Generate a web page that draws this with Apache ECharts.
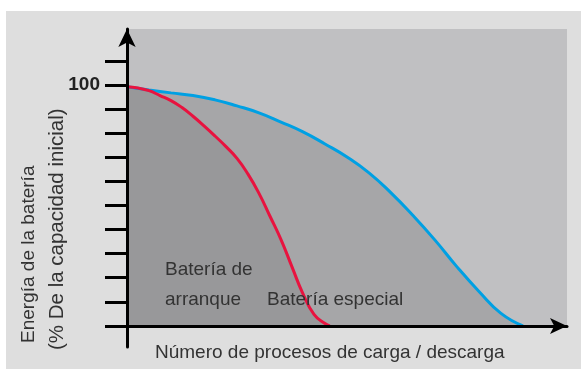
<!DOCTYPE html>
<html><head><meta charset="utf-8">
<script src="https://cdn.jsdelivr.net/npm/echarts@6/dist/echarts.min.js"></script>
<style>html,body{margin:0;padding:0;background:#fff}#c{width:581px;height:369px}</style>
</head><body><div id="c"></div>
<script>
// Data (x: relative number of cycles 0..100, y: % of initial capacity)
const xBlue = [0, 5, 10, 15, 20, 25, 30, 35, 40, 45, 50, 55, 60, 65, 70, 75, 80, 85, 90];
const yBlue = [99.2, 97.9, 96.7, 95.6, 93.8, 91.3, 88.4, 84.6, 80.5, 75.5, 70.1, 63.5, 55.2, 45.8, 35.6, 24.5, 14.3, 5.2, 0];
const xRed = [0, 2.5, 5, 7.5, 10, 12.5, 15, 17.5, 20, 22.5, 25, 27.5, 30, 32.5, 35, 37.5, 40, 42.5, 45, 46.1];
const yRed = [99.2, 98.7, 97.6, 95.6, 93.5, 90.6, 87.0, 83.0, 78.8, 74.4, 69.5, 63.0, 55.0, 45.5, 35.8, 24.5, 13.3, 4.8, 1.0, 0];
const yTicks = [0, 10, 20, 30, 40, 50, 60, 70, 80, 90, 100, 110];
const yLabels = [100];
const xMin = 0, xMax = 100, yMin = -8.75, yMax = 123.2;
const yTitle1 = 'Energía de la batería';
const yTitle2 = '(% De la capacidad inicial)';
const xTitle = 'Número de procesos de carga / descarga';
const lblStart1 = 'Batería de';
const lblStart2 = 'arranque';
const lblSpecial = 'Batería especial';

const pair = (xs, ys) => xs.map((x, i) => [x, ys[i]]);
const font = '"Liberation Sans", Arial, sans-serif';
const txtColor = '#333333';
const chart = echarts.init(document.getElementById('c'), null, {renderer: 'canvas'});
const txt = (text, x, y, size, extra) => Object.assign({
  type: 'text', z: 100, silent: true, x: x, y: y,
  style: {text: text, fill: txtColor, font: size + 'px ' + font, textAlign: 'left', textVerticalAlign: 'middle'}
}, extra || {});

chart.setOption({
  animation: false,
  backgroundColor: '#ffffff',
  grid: {left: 127, right: 14, top: 29, bottom: 22},
  xAxis: {
    type: 'value', min: xMin, max: xMax, z: 10,
    axisLine: {onZero: true, symbol: ['none', 'arrow'], symbolSize: [12, 17], symbolOffset: [0, 0],
      lineStyle: {color: '#000', width: 3}},
    axisTick: {show: false}, axisLabel: {show: false}, splitLine: {show: false}
  },
  yAxis: {
    type: 'value', min: yMin, max: yMax, z: 10,
    axisLine: {onZero: true, symbol: ['none', 'arrow'], symbolSize: [13, 18], symbolOffset: [0, 0],
      lineStyle: {color: '#000', width: 3}},
    axisTick: {show: true, customValues: yTicks, length: 22, lineStyle: {color: '#000', width: 3}},
    axisLabel: {show: true, customValues: yLabels, margin: 27, fontFamily: font, fontWeight: 'bold',
      fontSize: 19, color: '#222'},
    splitLine: {show: false}
  },
  graphic: [
    {type: 'rect', z: -100, silent: true, shape: {x: 6, y: 11, width: 575, height: 358}, style: {fill: '#dedede'}},
    txt(yTitle1, 29, 343, 19, {rotation: Math.PI / 2}),
    txt(yTitle2, 57, 350, 20.5, {rotation: Math.PI / 2}),
    txt(xTitle, 155, 353, 19),
    txt(lblStart1, 165, 270, 19),
    txt(lblStart2, 165, 300, 19),
    txt(lblSpecial, 267, 300, 19)
  ],
  series: [
    {
      type: 'line', data: pair(xBlue, yBlue), smooth: 0.5, symbol: 'none',
      lineStyle: {color: '#00a0e3', width: 3},
      areaStyle: {color: '#a6a6a8', opacity: 1},
      markArea: {silent: true, itemStyle: {color: '#c0c0c2'},
        data: [[{coord: [xMin, 0]}, {coord: [xMax, yMax]}]]}
    },
    {
      type: 'line', data: pair(xRed, yRed), smooth: 0.5, symbol: 'none',
      lineStyle: {color: '#e8133f', width: 3},
      areaStyle: {color: '#98989a', opacity: 1}
    }
  ]
});
</script></body></html>
